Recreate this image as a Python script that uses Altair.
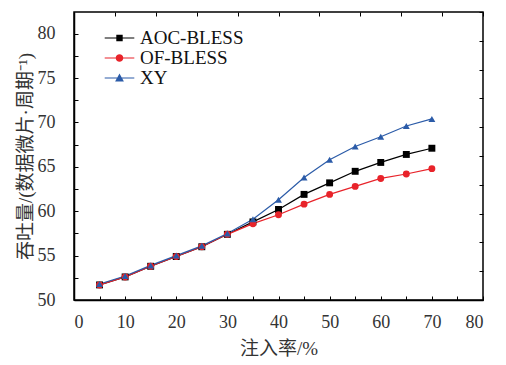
import altair as alt
import pandas as pd

# ---- data ----
injection = [5, 10, 15, 20, 25, 30, 35, 40, 45, 50, 55, 60, 65, 70]
aoc_bless = [51.7, 52.6, 53.8, 54.9, 56.0, 57.4, 58.8, 60.2, 61.9, 63.2, 64.5, 65.5, 66.4, 67.1]
of_bless = [51.7, 52.6, 53.8, 54.9, 56.0, 57.4, 58.6, 59.6, 60.8, 61.9, 62.8, 63.7, 64.2, 64.8]
xy_route = [51.8, 52.7, 53.9, 55.0, 56.1, 57.5, 59.1, 61.3, 63.8, 65.8, 67.3, 68.4, 69.6, 70.4]
series_names = ["AOC-BLESS", "OF-BLESS", "XY"]
series_colors = ["#000000", "#e8232a", "#2b5ba8"]

x_label_values = [0, 10, 20, 30, 40, 50, 60, 70, 80]
x_minor_values = [0, 5, 10, 15, 20, 25, 30, 35, 40, 45, 50, 55, 60, 65, 70, 75, 80]
x_top_values = [0, 8, 16, 24, 32, 40, 48, 56, 64, 72, 80]
y_label_values = [50, 55, 60, 65, 70, 75, 80]
y_minor_values = [50, 52.5, 55, 57.5, 60, 62.5, 65, 67.5, 70, 72.5, 75, 77.5, 80, 82.5]
y_right_values = [50, 53.245, 56.49, 59.735, 62.98, 66.225, 69.47, 72.715, 75.96, 79.205, 82.45]

X_DOMAIN = [0, 80]
Y_DOMAIN = [50, 82.45]
W, H = 409, 288
FONT = "'Liberation Serif', 'Noto Sans CJK SC', serif"

rows = []
for name, vals in zip(series_names, [aoc_bless, of_bless, xy_route]):
    for x, v in zip(injection, vals):
        rows.append({"x": x, "y": v, "series": name})
df = pd.DataFrame(rows)

xs = alt.Scale(domain=X_DOMAIN, nice=False, zero=False)
ys = alt.Scale(domain=Y_DOMAIN, nice=False, zero=False)

main_x_axis = alt.Axis(orient="bottom", values=x_label_values, ticks=False, domain=True,
                       domainColor="black", domainWidth=1.5, grid=False,
                       labelFont=FONT, labelFontSize=18, labelColor="#333333", labelPadding=13,
                       title="注入率/%", titleFont=FONT, titleFontSize=19, titleFontWeight="normal",
                       titleColor="#333333", titlePadding=8)
main_y_axis = alt.Axis(orient="left", values=y_label_values, ticks=False, domain=True,
                       domainColor="black", domainWidth=1.5, grid=False,
                       labelFont=FONT, labelFontSize=18, labelColor="#333333", labelPadding=19,
                       title="吞吐量/(数据微片·周期⁻¹)", titleFont=FONT, titleFontSize=19,
                       titleFontWeight="normal", titleColor="#333333", titlePadding=2)

color_nolegend = alt.Color("series:N", scale=alt.Scale(domain=series_names, range=series_colors), legend=None)

lines = alt.Chart(df).mark_line(strokeWidth=1.2).encode(
    x=alt.X("x:Q", scale=xs, axis=main_x_axis),
    y=alt.Y("y:Q", scale=ys, axis=main_y_axis),
    color=color_nolegend,
    detail="series:N",
)

points = alt.Chart(df).mark_point(filled=True, opacity=1, size=48).encode(
    x=alt.X("x:Q", scale=xs, axis=None),
    y=alt.Y("y:Q", scale=ys, axis=None),
    color=color_nolegend,
    shape=alt.Shape("series:N", scale=alt.Scale(domain=series_names, range=["square", "circle", "triangle-up"]), legend=None),
)

# inward ticks on bottom and left
ticks_in = alt.Chart(df).mark_point(opacity=0).encode(
    x=alt.X("x:Q", scale=xs, axis=alt.Axis(orient="top", offset=-H, values=x_minor_values, labels=False,
                                           domain=False, ticks=True, tickSize=4, tickColor="black",
                                           tickWidth=1, grid=False, title=None)),
    y=alt.Y("y:Q", scale=ys, axis=alt.Axis(orient="right", offset=-W, values=y_minor_values, labels=False,
                                           domain=False, ticks=True, tickSize=4, tickColor="black",
                                           tickWidth=1, grid=False, title=None)),
)

# inward ticks on top and right
ticks_out = alt.Chart(df).mark_point(opacity=0).encode(
    x=alt.X("x:Q", scale=xs, axis=alt.Axis(orient="bottom", offset=-H, values=x_top_values, labels=False,
                                           domain=False, ticks=True, tickSize=4, tickColor="black",
                                           tickWidth=1, grid=False, title=None)),
    y=alt.Y("y:Q", scale=ys, axis=alt.Axis(orient="left", offset=-W, values=y_right_values, labels=False,
                                           domain=False, ticks=True, tickSize=4, tickColor="black",
                                           tickWidth=1, grid=False, title=None)),
)

# legend: symbol = line segment + marker
line_seg = "M-3.7,-0.15H3.7V0.15H-3.7Z"
legend_paths = [
    line_seg + "M-0.8,-0.8H0.8V0.8H-0.8Z",
    line_seg + "M-0.95,0A0.95,0.95 0 1,1 0.95,0A0.95,0.95 0 1,1 -0.95,0Z",
    line_seg + "M0,-1.1L1.1,0.85H-1.1Z",
]
legend_def = alt.Legend(title=None, orient="none", legendX=36, legendY=16.5, padding=0,
                        symbolSize=64, labelOffset=11, labelFont=FONT, labelFontSize=19,
                        labelColor="#111111", rowPadding=0, symbolStrokeWidth=0)
legend_layer = alt.Chart(df).transform_filter("false").mark_point(filled=True, opacity=1).encode(
    x=alt.X("x:Q", scale=xs, axis=None),
    y=alt.Y("y:Q", scale=ys, axis=None),
    color=alt.Color("series:N", scale=alt.Scale(domain=series_names, range=series_colors), legend=legend_def),
    shape=alt.Shape("series:N", scale=alt.Scale(domain=series_names, range=legend_paths), legend=legend_def),
)

chart = alt.layer(lines, points, ticks_in, ticks_out, legend_layer).resolve_axis(
    x="independent", y="independent"
).resolve_scale(
    color="independent", shape="independent"
).properties(
    width=W, height=H,
    autosize=alt.AutoSizeParams(type="none"),
    padding={"left": 66, "top": 4, "right": 15, "bottom": 57},
    background="white",
).configure_view(stroke="black", strokeWidth=1.5)

chart.save("out.html", embed_options={"renderer": "svg", "actions": False})
